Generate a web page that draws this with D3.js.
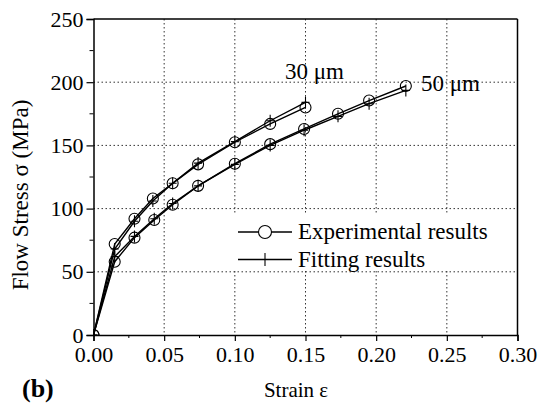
<!DOCTYPE html>
<html>
<head>
<meta charset="utf-8">
<script src="https://cdn.jsdelivr.net/npm/d3@7"></script>
<style>
  body { margin: 0; background: #fff; }
  svg { display: block; font-family: 'Liberation Serif', 'Times New Roman', serif; }
</style>
</head>
<body>
<svg id="chart" width="548" height="406"></svg>
<script>
// data
const strain30 = [0, 0.015, 0.029, 0.042, 0.056, 0.074, 0.1, 0.125, 0.15]
const exp30 = [0, 72, 92, 108, 120, 135, 152.5, 167, 180]
const fit30 = [0, 68, 90, 106, 120, 136, 153, 169.5, 184]

const strain50 = [0, 0.015, 0.029, 0.043, 0.056, 0.074, 0.1, 0.125, 0.149, 0.173, 0.195, 0.221]
const exp50 = [0, 58, 77, 91, 103, 118, 135.5, 151, 163, 175, 185.5, 197]
const fit50 = [0, 62, 78, 92, 104, 118, 135, 150, 162, 173, 183, 193.5]

const xTicks = [0, 0.05, 0.1, 0.15, 0.2, 0.25, 0.3]
const yTicks = [0, 50, 100, 150, 200, 250]
const xMinor = [0.025, 0.075, 0.125, 0.175, 0.225, 0.275]
const yMinor = [25, 75, 125, 175, 225]

const width = 548
const height = 406
const margin = { top: 19, right: 30.5, bottom: 71, left: 93.5 }
const chartWidth = width - margin.left - margin.right
const chartHeight = height - margin.top - margin.bottom
const serif = "'Liberation Serif', 'Times New Roman', serif"

const svg = d3.select('#chart')
svg.append('rect').attr('width', width).attr('height', height).attr('fill', '#fff')

const x = d3.scaleLinear([0, 0.3], [0, chartWidth])
const y = d3.scaleLinear([0, 250], [chartHeight, 0])

svg.append('clipPath').attr('id', 'plot-clip')
  .append('rect').attr('width', chartWidth).attr('height', chartHeight)

const viz = svg.append('g')
  .attr('id', 'viz')
  .attr('transform', `translate(${margin.left},${margin.top})`)

// dotted grid
const grid = viz.append('g').attr('stroke', '#333').attr('stroke-width', 1).attr('stroke-dasharray', '1.5,2.5')
grid.selectAll('.gx').data(xTicks.slice(1, -1)).join('line')
  .attr('x1', d => x(d)).attr('x2', d => x(d))
  .attr('y1', 0).attr('y2', chartHeight)
grid.selectAll('.gy').data(yTicks.slice(1, -1)).join('line')
  .attr('x1', 0).attr('x2', chartWidth)
  .attr('y1', d => y(d)).attr('y2', d => y(d))

// legend background (covers grid)
const legendX = 233
const legendY = 214
viz.append('rect')
  .attr('x', legendX - margin.left).attr('y', legendY - margin.top)
  .attr('width', 262).attr('height', 56)
  .attr('fill', '#fff')

// series
const series = [
  { strain: strain30, exp: exp30, fit: fit30 },
  { strain: strain50, exp: exp50, fit: fit50 },
]

const line = d3.line()
const cross = 6
const marks = viz.append('g').attr('clip-path', 'url(#plot-clip)')

series.forEach(s => {
  const fitPts = s.strain.map((d, i) => [x(d), y(s.fit[i])])
  const expPts = s.strain.map((d, i) => [x(d), y(s.exp[i])])

  marks.append('path').attr('d', line(fitPts))
    .attr('fill', 'none').attr('stroke', '#000').attr('stroke-width', 1.4)
  marks.append('g').selectAll('path').data(fitPts).join('path')
    .attr('d', d => `M${d[0]},${d[1] - cross}V${d[1] + cross}M${d[0] - 4},${d[1]}H${d[0] + 4}`)
    .attr('stroke', '#000').attr('stroke-width', 1.1)

  marks.append('path').attr('d', line(expPts))
    .attr('fill', 'none').attr('stroke', '#000').attr('stroke-width', 1.4)
  marks.append('g').selectAll('circle').data(expPts).join('circle')
    .attr('cx', d => d[0]).attr('cy', d => d[1]).attr('r', 5.5)
    .attr('fill', 'none').attr('stroke', '#000').attr('stroke-width', 1.1)
})

// axes
const xAxis = viz.append('g')
  .attr('transform', `translate(0,${chartHeight})`)
  .call(d3.axisBottom(x).tickValues(xTicks).tickFormat(d3.format('.2f')).tickSize(6).tickPadding(5))
  .attr('font-family', serif)
xAxis.append('g').selectAll('line').data(xMinor).join('line')
  .attr('x1', d => x(d)).attr('x2', d => x(d)).attr('y1', 0).attr('y2', 3)
  .attr('stroke', '#000')

const yAxis = viz.append('g')
  .call(d3.axisLeft(y).tickValues(yTicks).tickSize(7).tickPadding(3))
  .attr('font-family', serif)
yAxis.append('g').selectAll('line').data(yMinor).join('line')
  .attr('y1', d => y(d)).attr('y2', d => y(d)).attr('x1', 0).attr('x2', -4)
  .attr('stroke', '#000')

viz.selectAll('.domain').attr('stroke-width', 1.5)
viz.selectAll('.tick line').attr('stroke-width', 1.2)
viz.selectAll('.tick text')
  .style('font-family', serif)
  .attr('font-size', 22)
  .attr('fill', '#000')

// top and right frame
viz.append('line').attr('x1', 0).attr('x2', chartWidth).attr('y1', 0).attr('y2', 0)
  .attr('stroke', '#000').attr('stroke-width', 1.5)
viz.append('line').attr('x1', chartWidth).attr('x2', chartWidth).attr('y1', 0).attr('y2', chartHeight)
  .attr('stroke', '#000').attr('stroke-width', 1.5)

// series labels
svg.append('text').attr('x', 285).attr('y', 79).attr('font-size', 23).text('30 μm')
svg.append('text').attr('x', 421).attr('y', 91).attr('font-size', 23).text('50 μm')

// legend
const leg = svg.append('g')
leg.append('line').attr('x1', 238).attr('x2', 292).attr('y1', 232).attr('y2', 232)
  .attr('stroke', '#000').attr('stroke-width', 1.4)
leg.append('circle').attr('cx', 265).attr('cy', 232).attr('r', 6.5)
  .attr('fill', '#fff').attr('stroke', '#000').attr('stroke-width', 1.1)
leg.append('text').attr('x', 298).attr('y', 239).attr('font-size', 23).text('Experimental results')
leg.append('line').attr('x1', 238).attr('x2', 292).attr('y1', 259.5).attr('y2', 259.5)
  .attr('stroke', '#000').attr('stroke-width', 1.4)
leg.append('line').attr('x1', 265).attr('x2', 265).attr('y1', 253).attr('y2', 266)
  .attr('stroke', '#000').attr('stroke-width', 1.1)
leg.append('text').attr('x', 298).attr('y', 267).attr('font-size', 23).text('Fitting results')

// axis titles
svg.append('text')
  .attr('transform', 'translate(28,195) rotate(-90)')
  .attr('text-anchor', 'middle')
  .attr('font-size', 23)
  .text('Flow Stress σ (MPa)')
svg.append('text')
  .attr('x', 296).attr('y', 397)
  .attr('text-anchor', 'middle')
  .attr('font-size', 21)
  .text('Strain ε')
svg.append('text')
  .attr('x', 22).attr('y', 397)
  .attr('font-size', 26).attr('font-weight', 'bold')
  .text('(b)')
</script>
</body>
</html>
